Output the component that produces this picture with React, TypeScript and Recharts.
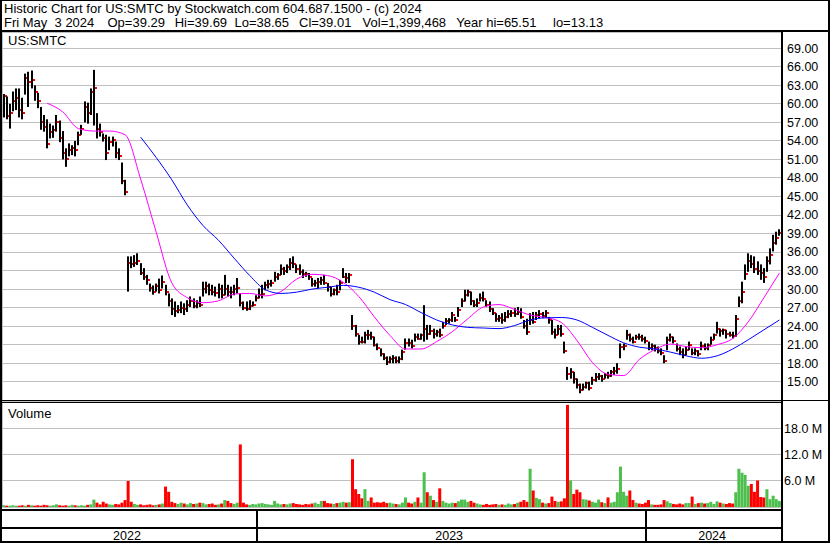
import React from "react";
import { ComposedChart, Bar, Line, XAxis, YAxis, CartesianGrid, Cell } from "recharts";

// one bar = two trading days, May 2022 .. May 3 2024
const highs = [
  61.6, 61.2, 60.0, 62.0, 62.5, 62.5, 61.0, 64.9, 65.2, 65.4,
  63.0, 61.8, 59.5, 58.2, 57.5, 56.8, 56.5, 58.2, 57.3, 55.6,
  52.8, 53.6, 53.3, 54.0, 55.5, 56.6, 60.4, 60.2, 62.5, 65.51,
  58.5, 56.8, 55.2, 55.0, 54.7, 54.7, 53.9, 52.8, 50.5, 47.7,
  35.3, 35.3, 35.5, 35.8, 34.2, 33.4, 32.3, 30.9, 30.6, 30.9,
  31.7, 32.2, 30.7, 29.3, 28.5, 28.0, 27.4, 28.0, 27.7, 28.2,
  28.8, 28.5, 28.2, 28.8, 31.2, 31.2, 30.9, 30.7, 30.4, 30.9,
  30.7, 32.3, 30.7, 30.4, 30.7, 31.8, 29.3, 28.0, 28.0, 28.2,
  28.0, 29.0, 30.1, 30.7, 31.2, 31.5, 31.5, 32.8, 32.6, 34.0,
  33.6, 34.0, 35.0, 35.3, 34.0, 34.0, 33.2, 32.8, 32.6, 31.8,
  31.5, 31.8, 32.0, 32.3, 31.0, 30.4, 30.1, 30.7, 31.5, 33.4,
  32.6, 32.6, 25.8, 24.2, 22.6, 22.3, 23.1, 23.4, 23.1, 22.3,
  21.2, 20.4, 19.6, 19.1, 19.1, 19.3, 19.1, 19.1, 20.2, 22.0,
  22.0, 21.8, 22.8, 22.8, 22.8, 27.4, 24.2, 24.2, 23.6, 23.4,
  23.6, 24.7, 25.3, 25.3, 26.3, 25.5, 27.1, 28.5, 29.9, 29.9,
  29.6, 28.2, 28.5, 29.3, 29.6, 28.2, 28.0, 26.9, 26.1, 25.8,
  26.1, 26.3, 26.6, 26.6, 26.9, 27.1, 26.9, 25.0, 25.2, 26.1,
  26.3, 26.3, 26.6, 26.3, 26.6, 25.5, 25.0, 23.6, 24.2, 24.2,
  21.5, 17.4, 17.2, 16.6, 15.5, 14.7, 14.7, 15.0, 15.0, 15.8,
  16.4, 16.4, 16.1, 16.4, 16.6, 16.9, 17.4, 18.0, 21.2, 21.2,
  23.4, 22.8, 22.3, 22.6, 22.8, 22.6, 22.3, 21.5, 21.2, 21.0,
  20.7, 20.4, 19.3, 22.3, 22.8, 22.3, 21.2, 20.7, 20.4, 20.7,
  21.5, 20.4, 20.4, 20.1, 21.5, 21.2, 21.2, 22.3, 22.8, 24.7,
  23.6, 23.6, 23.4, 23.1, 23.1, 25.8, 28.8, 31.2, 34.0, 35.8,
  35.5, 35.3, 34.5, 34.0, 33.4, 35.3, 36.6, 38.8, 39.3, 39.69,
];

const lows = [
  57.8, 57.5, 56.0, 58.8, 59.0, 57.8, 57.5, 61.5, 59.5, 62.5,
  60.5, 59.3, 55.8, 55.5, 52.8, 54.4, 54.5, 55.5, 53.8, 51.0,
  49.8, 51.5, 51.7, 51.5, 53.3, 55.0, 57.0, 56.8, 58.2, 56.5,
  54.4, 54.7, 53.9, 50.9, 52.5, 53.1, 51.2, 50.9, 47.0, 45.2,
  29.6, 33.4, 33.6, 33.9, 32.3, 31.5, 30.7, 29.6, 29.1, 29.6,
  29.3, 30.1, 29.0, 27.2, 25.8, 25.5, 26.1, 26.1, 25.8, 26.3,
  27.1, 26.9, 26.9, 27.1, 28.8, 29.3, 29.0, 29.0, 28.8, 28.5,
  28.5, 29.0, 28.8, 28.5, 29.0, 29.3, 27.2, 26.6, 26.5, 26.6,
  27.2, 28.0, 28.5, 28.5, 29.8, 30.1, 30.4, 31.2, 31.5, 32.3,
  32.3, 32.6, 33.1, 33.4, 32.6, 32.3, 31.8, 32.0, 31.5, 30.4,
  30.4, 30.1, 30.7, 30.7, 29.6, 28.8, 29.0, 29.0, 29.8, 31.8,
  31.0, 31.0, 23.4, 22.3, 21.0, 21.2, 21.2, 21.8, 21.8, 20.7,
  20.1, 19.1, 18.5, 17.7, 18.0, 18.0, 18.0, 18.0, 18.5, 20.2,
  20.7, 20.4, 21.5, 21.8, 21.8, 21.5, 21.8, 22.6, 22.0, 22.3,
  22.2, 23.6, 24.2, 24.4, 24.7, 24.7, 25.5, 27.1, 28.0, 28.8,
  27.4, 27.1, 27.1, 28.0, 28.0, 27.1, 26.3, 25.8, 24.7, 24.7,
  24.4, 24.7, 25.3, 25.5, 25.5, 25.8, 25.2, 23.6, 22.6, 24.2,
  24.4, 25.0, 25.3, 25.3, 25.3, 24.4, 22.6, 22.0, 22.6, 22.3,
  19.6, 15.3, 15.5, 14.7, 13.9, 13.13, 13.6, 13.9, 13.6, 14.5,
  15.0, 15.3, 15.0, 15.5, 15.5, 15.8, 16.1, 16.3, 18.8, 20.1,
  21.8, 21.5, 21.2, 21.8, 21.8, 21.5, 21.2, 20.1, 20.1, 19.9,
  19.6, 19.3, 18.0, 20.1, 21.5, 21.2, 19.9, 19.3, 18.8, 19.3,
  20.1, 19.3, 19.3, 19.1, 20.1, 20.1, 20.1, 21.0, 21.8, 22.8,
  22.3, 22.6, 22.0, 22.3, 22.0, 22.3, 27.1, 27.7, 31.5, 32.8,
  33.4, 32.6, 32.3, 31.5, 31.0, 32.8, 34.0, 36.1, 37.2, 38.65,
];

const closes = [
  61.3, 58.0, 58.5, 60.5, 61.0, 59.0, 58.5, 64.2, 63.5, 63.8,
  62.0, 60.5, 57.0, 56.3, 53.5, 55.5, 55.8, 57.0, 54.5, 52.0,
  51.0, 52.5, 52.8, 52.5, 55.0, 56.0, 59.5, 58.5, 62.0, 62.5,
  56.0, 55.5, 54.5, 52.0, 53.8, 54.2, 52.0, 51.5, 47.5, 45.8,
  34.2, 34.0, 34.2, 34.5, 32.6, 32.0, 31.5, 30.2, 29.5, 30.5,
  29.8, 31.2, 29.6, 28.0, 26.8, 26.5, 26.6, 27.0, 26.8, 27.5,
  28.0, 27.3, 27.8, 27.5, 30.0, 30.5, 29.8, 29.5, 29.3, 30.0,
  29.0, 30.0, 29.6, 29.5, 30.0, 30.2, 27.8, 27.0, 26.8, 27.2,
  27.5, 28.5, 29.0, 29.2, 30.6, 30.9, 31.0, 32.0, 32.3, 33.2,
  33.0, 33.5, 34.3, 34.0, 33.2, 32.8, 32.5, 32.4, 32.0, 30.8,
  31.0, 31.2, 31.5, 31.0, 30.3, 29.2, 29.8, 29.5, 31.0, 32.0,
  31.8, 32.3, 24.0, 22.8, 21.5, 21.4, 22.5, 22.6, 22.2, 21.0,
  20.5, 19.5, 18.8, 18.2, 18.6, 18.8, 18.4, 18.6, 19.8, 21.3,
  21.2, 20.8, 22.2, 22.0, 22.5, 23.5, 22.8, 23.2, 22.8, 23.0,
  22.6, 24.0, 24.8, 25.0, 25.8, 25.0, 26.6, 28.0, 29.0, 29.5,
  28.0, 27.5, 27.8, 28.6, 28.4, 27.5, 26.8, 26.2, 25.2, 25.3,
  25.0, 25.5, 26.0, 26.2, 26.0, 26.3, 25.5, 24.0, 23.0, 25.0,
  24.6, 25.8, 26.0, 25.6, 26.2, 25.0, 23.0, 22.5, 23.6, 22.8,
  20.0, 16.3, 16.5, 15.4, 14.5, 13.6, 14.2, 14.8, 14.0, 15.2,
  15.8, 16.0, 15.5, 16.1, 16.0, 16.6, 16.8, 17.0, 20.6, 20.8,
  22.6, 22.0, 21.5, 22.3, 22.2, 22.0, 21.6, 20.5, 20.8, 20.5,
  20.0, 19.6, 18.4, 21.8, 22.2, 21.6, 20.3, 19.8, 19.3, 20.2,
  20.9, 19.6, 20.0, 19.5, 20.8, 20.5, 20.9, 21.8, 22.5, 23.5,
  23.2, 23.3, 22.7, 22.6, 22.4, 25.2, 28.0, 29.5, 32.5, 34.5,
  34.0, 33.2, 33.0, 32.6, 32.0, 34.5, 35.5, 37.5, 38.3, 39.01,
];

// volume in millions
const volumes = [
  0.4, 0.3, 0.3, 0.4, 0.3, 0.3, 0.4, 0.3, 0.5, 0.4,
  0.3, 0.4, 0.3, 0.5, 0.4, 0.3, 0.4, 0.6, 0.4, 0.3,
  0.4, 0.3, 0.5, 0.4, 0.3, 0.4, 0.3, 0.5, 0.6, 1.7,
  1.0, 0.6, 1.2, 0.8, 0.6, 0.5, 0.7, 0.6, 1.0, 1.6,
  6.0, 1.2, 0.7, 0.5, 0.6, 0.4, 0.5, 0.6, 0.4, 0.5,
  0.6, 0.8, 4.7, 3.5, 1.2, 0.9, 0.7, 1.0, 0.8, 0.6,
  0.9, 0.7, 0.8, 1.0, 0.9, 0.6, 0.7, 0.8, 0.5, 0.6,
  0.8, 1.6, 1.4, 0.9, 0.7, 1.0, 14.4, 1.0, 0.6, 0.5,
  0.7, 0.6, 0.8, 0.9, 0.7, 0.6, 0.5, 1.4, 0.8, 0.6,
  0.7, 0.6, 0.8, 0.9, 0.7, 0.6, 0.5, 0.7, 0.6, 0.8,
  1.0, 0.7, 1.4, 1.4, 0.9, 0.8, 0.7, 0.9, 1.0, 1.2,
  1.0, 1.1, 11.0, 4.1, 3.0, 2.0, 4.1, 1.4, 2.2, 1.0,
  1.1, 1.0, 1.2, 0.9, 1.0, 0.8, 0.7, 0.6, 1.0, 2.2,
  1.0, 0.8, 1.2, 2.2, 1.0, 8.0, 3.4, 2.6, 1.6, 1.2,
  4.3, 1.4, 1.0, 0.8, 1.0, 0.9, 1.3, 1.7, 1.7, 1.2,
  1.4, 1.0, 0.8, 0.6, 0.5, 0.7, 0.5, 0.6, 0.7, 0.5,
  0.6, 0.5, 0.8, 0.6, 0.7, 1.0, 1.2, 1.6, 1.2, 8.8,
  3.8, 2.1, 1.8, 1.0, 0.8, 0.9, 2.4, 1.4, 1.2, 1.3,
  2.0, 23.5, 6.1, 3.0, 4.0, 3.4, 1.8, 1.7, 1.5, 1.2,
  1.0, 1.7, 1.1, 0.9, 2.2, 1.0, 1.2, 3.4, 9.3, 3.5,
  2.6, 3.8, 1.6, 1.0, 0.8, 0.7, 1.0, 1.6, 0.6, 0.5,
  0.5, 0.6, 1.6, 1.3, 0.9, 0.7, 0.6, 0.8, 0.6, 0.9,
  0.9, 2.4, 0.7, 0.9, 1.0, 0.8, 0.9, 1.2, 0.7, 1.3,
  1.0, 0.8, 0.7, 0.9, 0.8, 3.4, 8.8, 7.9, 7.4, 4.9,
  5.3, 3.5, 6.1, 2.3, 2.2, 4.1, 1.8, 2.6, 1.8, 1.4,
];

// moving averages, one value every MA_STEP bars
const MA_STEP = 5;
const MA_FAST_START = 14;
const maFast = [
  60.1, 58.7, 56.0, 55.6, 55.6, 55.0, 47.8, 39.2, 31.0, 28.6,
  27.8, 28.1, 29.2, 29.3, 28.9, 29.6, 31.6, 32.4, 32.2, 31.1,
  28.8, 25.5, 22.5, 20.3, 20.3, 21.5, 23.1, 25.2, 27.1, 27.5,
  26.7, 25.8, 25.4, 24.6, 21.7, 18.1, 16.2, 16.0, 18.6, 20.2,
  21.1, 20.7, 20.5, 21.0, 22.0, 24.7, 28.6, 32.6,
];
const MA_SLOW_START = 44;
const maSlow = [
  54.6, 51.3, 47.7, 43.6, 40.3, 37.9, 35.0, 32.2, 29.9, 29.3,
  29.5, 30.0, 30.3, 30.6, 30.3, 29.5, 28.3, 27.5, 26.2, 25.0,
  24.2, 23.8, 23.7, 23.6, 24.1, 25.0, 25.35, 25.4, 25.0, 23.8,
  22.5, 21.3, 20.6, 20.3, 19.8, 19.2, 18.8, 19.2, 20.3, 21.8,
  23.4, 25.0,
];

// month boundaries, in bar units
const monthTicks = [
  8.71, 18.85, 29.12, 40.03, 49.98, 60.57, 71.16, 81.24, 92.15, 101.65,
  112.37, 122.19, 133.42, 143.37, 154.09, 165.0, 174.5, 185.41, 196.13, 206.08,
  216.86, 227.13, 237.08, 247.67,
];
const yearBreaks = [81.24, 206.08];
const yearLabels = ["2022", "2023", "2024"];
const yearLabelAt = [39.6, 143.0, 227.4];

const priceTicks = [15, 18, 21, 24, 27, 30, 33, 36, 39, 42, 45, 48, 51, 54, 57, 60, 63, 66, 69];
const volTicks = [6, 12, 18];

const title = "Historic Chart for US:SMTC by Stockwatch.com 604.687.1500 - (c) 2024";
const quoteFields = ["Fri May  3 2024", "Op=39.29", "Hi=39.69", "Lo=38.65", "Cl=39.01", "Vol=1,399,468", "Year hi=65.51", "lo=13.13"];
const quoteFieldX = [4, 107.5, 174.7, 234.5, 299, 362.6, 456.3, 553];

const FONT = '"Liberation Sans", Arial, sans-serif';
const GRID = "#c0c0c0";
const UP = "#4cbf4c";
const DOWN = "#ff0000";
const X_DOMAIN: [number, number] = [-0.5, closes.length - 0.5];

const maAt = (vals: number[], start: number, i: number) => {
  const k = (i - start) / MA_STEP;
  return Number.isInteger(k) && k >= 0 && k < vals.length ? vals[k] : undefined;
};

const rows = closes.map((c, i) => ({
  i,
  range: [lows[i], highs[i]],
  close: c,
  vol: volumes[i],
  up: i === 0 || c >= closes[i - 1],
  fast: maAt(maFast, MA_FAST_START, i),
  slow: maAt(maSlow, MA_SLOW_START, i),
}));

const OhlcBar = (props: any) => {
  const { x, y, width, height, payload } = props;
  if (x == null || y == null) return null;
  const cx = Math.round(x + width / 2);
  const [lo, hi] = payload.range;
  const cy = hi === lo ? y : y + ((hi - payload.close) / (hi - lo)) * height;
  return (
    <g>
      <rect x={cx - 1} y={y} width={2} height={Math.max(height, 1)} fill="#000" />
      <rect x={cx + 1} y={Math.round(cy) - 1} width={2} height={2} fill="#ff0000" />
    </g>
  );
};

const YearTick = (props: any) => {
  const { x, y, payload } = props;
  const v = payload.value;
  if (yearBreaks.includes(v)) {
    return <rect x={Math.round(x) - 1} y={y + 4} width={2} height={30} fill="#000" />;
  }
  const k = yearLabelAt.indexOf(v);
  return (
    <text x={x} y={y + 32.5} textAnchor="middle" fontSize={12.5} fontFamily={FONT} fill="#000">
      {yearLabels[k]}
    </text>
  );
};

const Rule = ({ x, y, w, h }: { x: number; y: number; w: number; h: number }) => (
  <div style={{ position: "absolute", left: x, top: y, width: w, height: h, background: "#000" }} />
);

const label = (top: number, left: number, size = 13): React.CSSProperties => ({
  position: "absolute",
  top,
  left,
  fontFamily: FONT,
  fontSize: size,
  lineHeight: 1,
  whiteSpace: "pre",
  color: "#000",
});

const axisTick = { fill: "#000", fontSize: 12.5, fontFamily: FONT };

export default function App() {
  return (
    <div style={{ position: "absolute", left: 0, top: 0, width: 830, height: 543, background: "#fff", overflow: "hidden" }}>
      <style>{`.recharts-cartesian-grid line { shape-rendering: crispEdges; }`}</style>
      <div style={label(2, 4)}>{title}</div>
      {quoteFields.map((f, k) => (
        <div key={f} style={label(16, quoteFieldX[k])}>{f}</div>
      ))}

      <div style={{ position: "absolute", left: 2, top: 32 }}>
        <ComposedChart width={828} height={368} data={rows} margin={{ top: 0, right: 0, bottom: 0, left: 0 }}>
          <CartesianGrid stroke={GRID} />
          <XAxis
            type="number"
            dataKey="i"
            domain={X_DOMAIN}
            ticks={monthTicks}
            interval={0}
            height={0}
            tick={false}
            axisLine={false}
            tickLine={false}
            allowDataOverflow
          />
          <YAxis
            orientation="right"
            width={49}
            domain={[12.04, 71.64]}
            ticks={priceTicks}
            interval={0}
            tickFormatter={(v: number) => v.toFixed(2)}
            axisLine={false}
            tickLine={false}
            tickSize={4}
            tickMargin={2}
            tick={axisTick}
            allowDataOverflow
          />
          <Bar dataKey="range" barSize={3} shape={(p: any) => <OhlcBar {...p} />} isAnimationActive={false} />
          <Line dataKey="fast" type="monotone" stroke="#ff00ff" strokeWidth={1} dot={false} activeDot={false} connectNulls isAnimationActive={false} />
          <Line dataKey="slow" type="monotone" stroke="#0000ff" strokeWidth={1} dot={false} activeDot={false} connectNulls isAnimationActive={false} />
        </ComposedChart>
      </div>

      <div style={{ position: "absolute", left: 2, top: 401 }}>
        <ComposedChart width={828} height={142} data={rows} margin={{ top: 0, right: 0, bottom: 0, left: 0 }}>
          <CartesianGrid stroke={GRID} xAxisId="m" />
          <XAxis
            xAxisId="m"
            type="number"
            dataKey="i"
            domain={X_DOMAIN}
            ticks={monthTicks}
            interval={0}
            height={0}
            tick={false}
            axisLine={false}
            tickLine={false}
            allowDataOverflow
          />
          <XAxis
            xAxisId="y"
            type="number"
            dataKey="i"
            domain={X_DOMAIN}
            ticks={[...yearBreaks, ...yearLabelAt]}
            interval={0}
            height={36}
            tick={(p: any) => <YearTick {...p} />}
            axisLine={false}
            tickLine={false}
            tickSize={0}
            tickMargin={0}
            allowDataOverflow
          />
          <YAxis
            orientation="right"
            width={49}
            domain={[0, 24.4]}
            ticks={volTicks}
            interval={0}
            tickFormatter={(v: number) => `${v.toFixed(1)} M`}
            axisLine={false}
            tickLine={false}
            tickSize={2}
            tickMargin={1}
            tick={axisTick}
            allowDataOverflow
          />
          <Bar xAxisId="m" dataKey="vol" barSize={3} isAnimationActive={false}>
            {rows.map((r) => (
              <Cell key={r.i} fill={r.up ? UP : DOWN} />
            ))}
          </Bar>
        </ComposedChart>
      </div>

      <div style={label(34, 8)}>US:SMTC</div>
      <div style={label(407, 8)}>Volume</div>

      <Rule x={0} y={0} w={830} h={1} />
      <Rule x={0} y={0} w={2} h={543} />
      <Rule x={828} y={0} w={2} h={543} />
      <Rule x={0} y={30} w={830} h={2} />
      <Rule x={781} y={32} w={2} h={511} />
      <Rule x={0} y={400} w={830} h={1} />
      <Rule x={0} y={402} w={781} h={1} />
      <Rule x={0} y={509} w={783} h={2} />
      <Rule x={0} y={527} w={783} h={2} />
      <Rule x={0} y={541} w={830} h={2} />
    </div>
  );
}
